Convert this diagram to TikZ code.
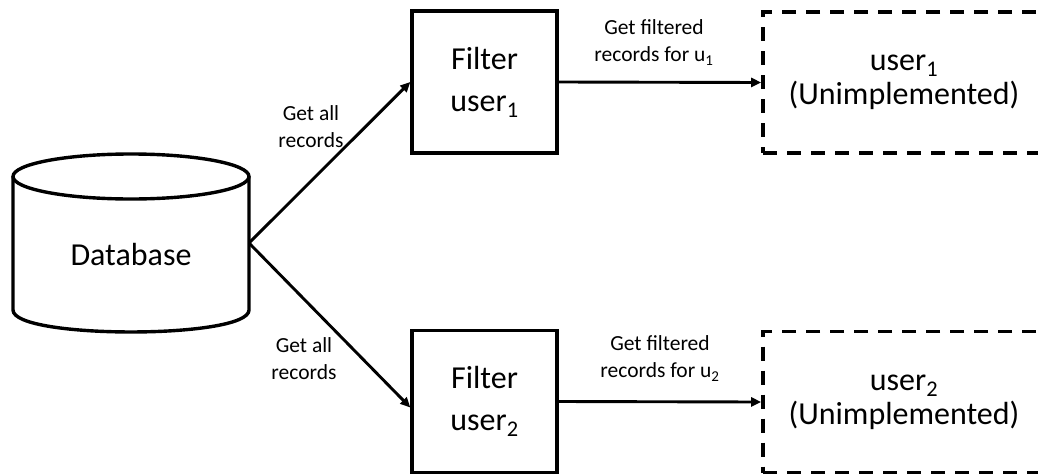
\documentclass[tikz,border=0pt]{standalone}
\usepackage{fontspec}
\setmainfont{Carlito}
\usetikzlibrary{arrows.meta}

\tikzset{
  outline/.style={line width=3.4pt, black},
  filterbox/.style={draw, outline, minimum width=145pt, minimum height=142pt,
    inner sep=0pt, align=center, font=\fontsize{32}{42}\selectfont},
  userbox/.style={draw, line width=3.6pt, dash pattern=on 14pt off 10pt,
    minimum width=282pt, minimum height=141pt, inner sep=0pt, align=center,
    font=\fontsize{32}{34}\selectfont},
  flow/.style={line width=2.9pt, -{Triangle[length=10pt,width=9pt]}},
  note/.style={align=center, inner sep=0pt, font=\fontsize{21.5}{27}\selectfont}
}

\begin{document}
\begin{tikzpicture}[x=1pt, y=-1pt]
\useasboundingbox (0,0) rectangle (1038,474);

% database cylinder
\draw[outline] (131,176.5) ellipse [x radius=118pt, y radius=22.5pt];
\draw[outline, line join=round] (13,176.5) -- (13,310)
  .. controls (13,339.3) and (249,339.3) .. (249,310) -- (249,176.5);
\node[font=\fontsize{32}{38}\selectfont] (db) at (131,255) {Database};
\coordinate (dbR) at (249,243);

% filter stages
\node[filterbox] (f1) at (484.5,82) {Filter\\user\textsubscript{1}};
\node[filterbox] (f2) at (484.5,401.5) {Filter\\user\textsubscript{2}};

% downstream consumers
\node[userbox] (u1) at (904,82.5) {user\textsubscript{1}\\(Unimplemented)};
\node[userbox] (u2) at (904,402) {user\textsubscript{2}\\(Unimplemented)};

% connectors
\draw[flow] (dbR) -- (f1.west);
\draw[flow] (dbR) -- ([yshift=-6pt]f2.west);
\draw[flow] (f1.east) -- (u1.west);
\draw[flow] (f2.east) -- (u2.west);

% connector labels
\node[note] (l1) at (311,127) {Get all\\records};
\node[note] (l2) at (304,358.5) {Get all\\records};
\node[note] (l3) at (654,42.5) {Get filtered\\records for u\textsubscript{1}};
\node[note] (l4) at (660,358.5) {Get filtered\\records for u\textsubscript{2}};
\end{tikzpicture}
\end{document}
